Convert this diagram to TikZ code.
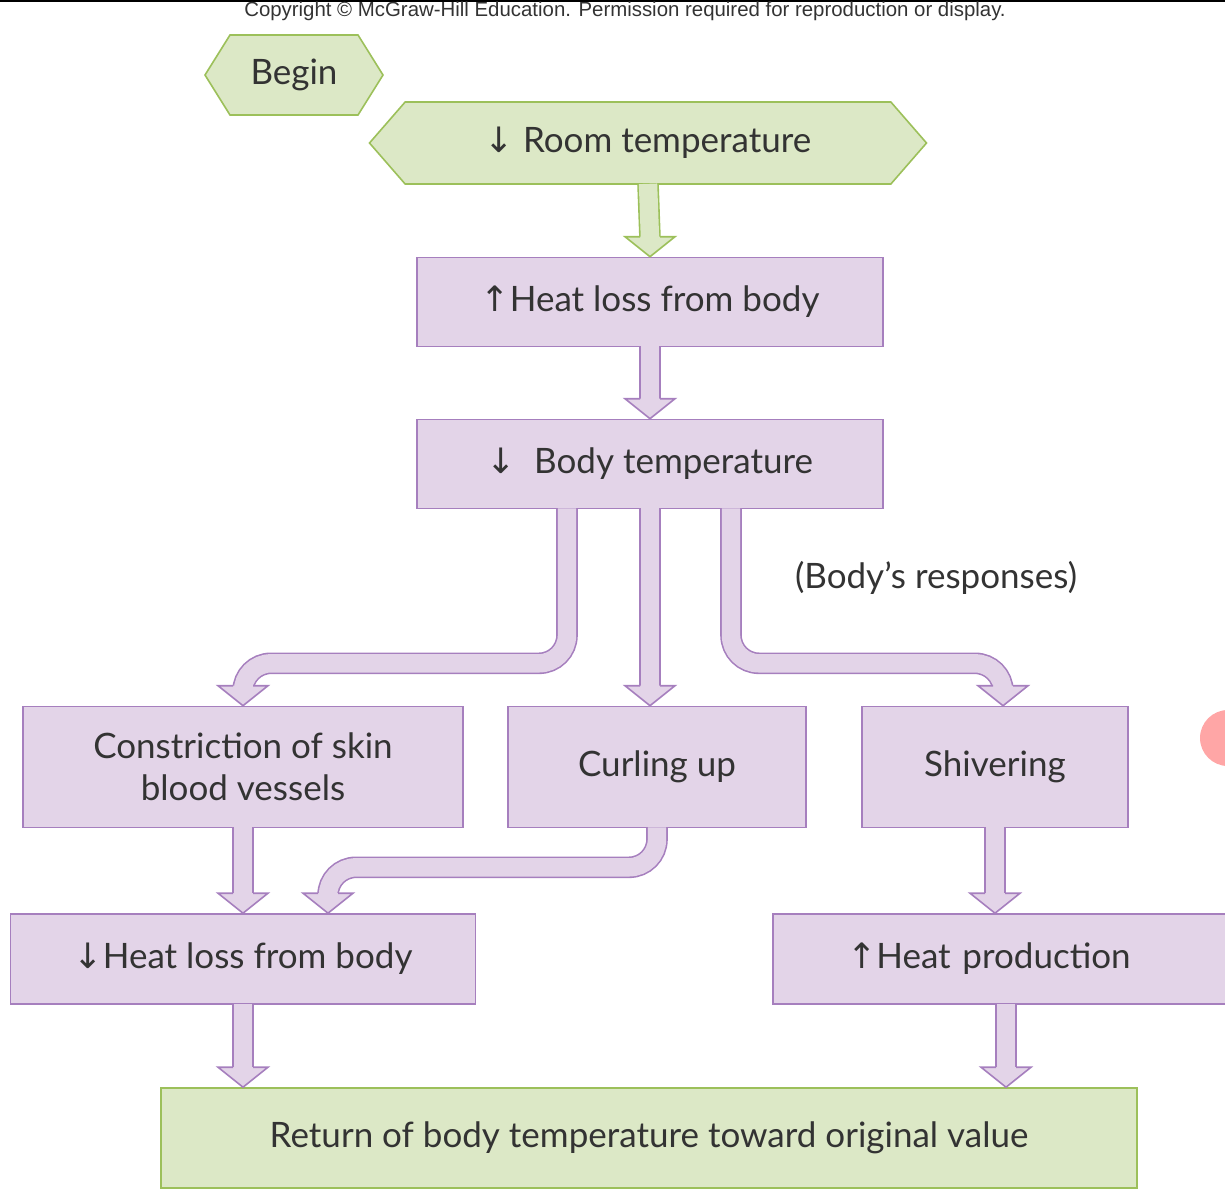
\documentclass[tikz,border=0pt]{standalone}
\usepackage{fontspec}
\setmainfont{Lato}
\newfontfamily\arrowfont{DejaVu Sans}
\newfontfamily\noticefont{Liberation Sans}
\usetikzlibrary{positioning, calc, shapes.symbols}

\definecolor{greenfill}{HTML}{DCE8C6}
\definecolor{greenline}{HTML}{9CC05A}
\definecolor{purplefill}{HTML}{E3D4E8}
\definecolor{purpleline}{HTML}{A67FBE}
\definecolor{inktext}{HTML}{333333}

\newcommand{\up}{{\arrowfont\char"2191}}
\newcommand{\down}{{\arrowfont\char"2193}}

\begin{document}
\begin{tikzpicture}[x=0.5pt, y=-0.5pt,
		stepbox/.style={draw=purpleline, fill=purplefill, line width=0.8pt, text=inktext,
			font=\fontsize{17.5}{21}\selectfont, inner sep=0pt, align=center},
		endbox/.style={stepbox, draw=greenline, fill=greenfill},
		startsign/.style={signal, signal to=west and east, draw=greenline, fill=greenfill,
			line width=0.8pt, text=inktext, font=\fontsize{17.5}{21}\selectfont, inner sep=0pt},
		shaft/.style={line width=0.8pt, draw=#1line, double=#1fill, double distance=9.2pt,
			rounded corners=14pt},
		pics/head/.style={code={
			\fill[#1fill] (-10,-20) -- (-25,-20) -- (0,0) -- (25,-20) -- (10,-20) -- cycle;
			\draw[#1line, line width=0.8pt, line join=miter] (-10,-20) -- (-25,-20) -- (0,0) -- (25,-20) -- (10,-20);}}]

		\clip (0,0) rectangle (1225,1200);
		\useasboundingbox (0,0) rectangle (1225,1200);
		\draw[black, line width=0.8pt] (0,1) -- (1225,1);
		\fill[red!35] (1228,738) circle (14pt);

		\node[font=\noticefont\fontsize{10.2}{12}\selectfont, text=inktext] (notice) at (625,11)
			{Copyright \textcopyright\ McGraw-Hill Education. Permission required for reproduction or display.};

		\node[startsign, minimum width=89pt, minimum height=40pt, signal pointer angle=116] (begin) at (294,75) {Begin};
		\node[startsign, minimum width=278.5pt, minimum height=41pt, signal pointer angle=98] (room) at (648,143) {\down\ Room temperature};
		\node[stepbox, minimum width=233pt, minimum height=44.5pt] (heat1) at (650,302) {\up Heat loss from body};
		\node[stepbox, minimum width=233pt, minimum height=44.5pt] (body) at (650,464) {\down\ \ Body temperature};
		\node[stepbox, minimum width=220pt, minimum height=60.5pt] (constr) at (243,767) {Constriction of skin\\blood vessels};
		\node[stepbox, minimum width=149pt, minimum height=60.5pt] (curl) at (657,767) {Curling up};
		\node[stepbox, minimum width=133pt, minimum height=60.5pt] (shiv) at (995,767) {Shivering};
		\node[stepbox, minimum width=232.5pt, minimum height=45pt] (heat2) at (243,959) {\down Heat loss from body};
		\node[stepbox, minimum width=232pt, minimum height=45pt, text width=226pt, align=left] (prod) at (1005,959) {\hspace{34pt}\up Heat production};
		\node[endbox, minimum width=488pt, minimum height=50pt] (ret) at (649,1138) {Return of body temperature toward original value};
		\node[text=inktext, font=\fontsize{17.5}{21}\selectfont] (resp) at (936,578) {(Body’s responses)};

		% flows
		\draw[shaft=green] ($(room.south)+(0,-1)$) -- ($(heat1.north)+(0,-18)$);
		\pic at (heat1.north) {head=green};
		\draw[shaft=purple] ($(heat1.south)+(0,-1)$) -- ($(body.north)+(0,-18)$);
		\pic at (body.north) {head=purple};
		\draw[shaft=purple] ($(body.south)+(-83,-1)$) -- ++(0,155) -| ($(constr.north)+(0,-18)$);
		\pic at (constr.north) {head=purple};
		\draw[shaft=purple] ($(body.south)+(0,-1)$) -- ($(body.south |- curl.north)+(0,-18)$);
		\pic at (body.south |- curl.north) {head=purple};
		\draw[shaft=purple] ($(body.south)+(81,-1)$) -- ++(0,155) -| ($(shiv.north)+(8,-18)$);
		\pic at ($(shiv.north)+(8,0)$) {head=purple};
		\draw[shaft=purple] ($(constr.south)+(0,-1)$) -- ($(heat2.north)+(0,-18)$);
		\pic at (heat2.north) {head=purple};
		\draw[shaft=purple] ($(curl.south)+(0,-1)$) -- ++(0,40) -| ($(heat2.north)+(85,-18)$);
		\pic at ($(heat2.north)+(85,0)$) {head=purple};
		\draw[shaft=purple] ($(shiv.south)+(0,-1)$) -- ($(prod.north -| shiv.south)+(0,-18)$);
		\pic at (prod.north -| shiv.south) {head=purple};
		\draw[shaft=purple] ($(heat2.south)+(0,-1)$) -- ($(ret.north -| heat2.south)+(0,-18)$);
		\pic at (ret.north -| heat2.south) {head=purple};
		\draw[shaft=purple] ($(prod.south)+(1,-1)$) -- ($(ret.north -| prod.south)+(1,-18)$);
		\pic at ($(ret.north -| prod.south)+(1,0)$) {head=purple};
\end{tikzpicture}
\end{document}
